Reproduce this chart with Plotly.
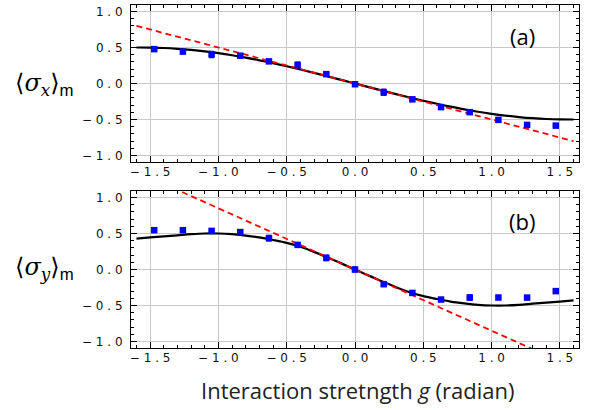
import plotly.graph_objects as go
from plotly.subplots import make_subplots

# ---- data ----
g_points = [-1.47, -1.26, -1.05, -0.84, -0.63, -0.42, -0.21, 0.0,
            0.21, 0.42, 0.63, 0.84, 1.05, 1.26, 1.47]
sx_meas = [0.477, 0.443, 0.403, 0.386, 0.307, 0.258, 0.130, -0.010,
           -0.122, -0.220, -0.328, -0.398, -0.505, -0.575, -0.585]
sx_err = [0.012, 0.015, 0.040, 0.018, 0.018, 0.035, 0.030, 0.025,
          0.040, 0.020, 0.015, 0.025, 0.018, 0.018, 0.012]
sy_meas = [0.546, 0.546, 0.536, 0.520, 0.435, 0.342, 0.161, 0.000,
           -0.204, -0.325, -0.417, -0.389, -0.389, -0.390, -0.300]
sy_err = [0.012, 0.022, 0.018, 0.012, 0.035, 0.020, 0.035, 0.030,
          0.015, 0.018, 0.012, 0.035, 0.025, 0.015, 0.015]

g_curve = [-1.6, -1.5, -1.4, -1.3, -1.2, -1.1, -1.0, -0.9, -0.8, -0.7, -0.6,
           -0.5, -0.4, -0.3, -0.2, -0.1, 0.0, 0.1, 0.2, 0.3, 0.4, 0.5, 0.6,
           0.7, 0.8, 0.9, 1.0, 1.1, 1.2, 1.3, 1.4, 1.5, 1.6]
sx_theory = [0.500, 0.499, 0.493, 0.482, 0.466, 0.446, 0.421, 0.392, 0.359,
             0.322, 0.282, 0.240, 0.195, 0.148, 0.099, 0.050, 0.000, -0.050,
             -0.099, -0.148, -0.195, -0.240, -0.282, -0.322, -0.359, -0.392,
             -0.421, -0.446, -0.466, -0.482, -0.493, -0.499, -0.500]
sy_theory = [0.430, 0.445, 0.460, 0.475, 0.490, 0.500, 0.500, 0.490, 0.470,
             0.445, 0.410, 0.370, 0.315, 0.245, 0.165, 0.085, 0.000, -0.085,
             -0.165, -0.245, -0.315, -0.370, -0.410, -0.445, -0.470, -0.490,
             -0.500, -0.500, -0.490, -0.475, -0.460, -0.445, -0.430]

g_linear = [-1.6, 1.6]
sx_linear = [0.80, -0.80]
sy_linear = [1.36, -1.36]

SP = " "  # mimics the wide letter spacing of the original tick labels
x_tickvals = [-1.5, -1.0, -0.5, 0.0, 0.5, 1.0, 1.5]
x_ticklabels = ["−1.5", "−1.0", "−0.5", "0.0", "0.5", "1.0", "1.5"]
y_tickvals = [-1.0, -0.5, 0.0, 0.5, 1.0]
y_ticklabels = ["−1.0", "−0.5", "0.0", "0.5", "1.0"]
x_ticktext = [SP.join(s) for s in x_ticklabels]
y_ticktext = [SP.join(s) for s in y_ticklabels]

BLUE = "#0000ff"
RED = "#ff0000"

fig = make_subplots(rows=2, cols=1, vertical_spacing=0.0)

panels = [(1, sx_meas, sx_err, sx_theory, sx_linear),
          (2, sy_meas, sy_err, sy_theory, sy_linear)]
for row, meas, err, theo, lin in panels:
    fig.add_trace(go.Scatter(x=g_curve, y=theo, mode="lines",
                             line=dict(color="black", width=2.2, shape="spline"),
                             showlegend=False), row=row, col=1)
    fig.add_trace(go.Scatter(x=g_linear, y=lin, mode="lines",
                             line=dict(color=RED, width=1.8, dash="6px,4px"),
                             showlegend=False), row=row, col=1)
    fig.add_trace(go.Scatter(x=g_points, y=meas, mode="markers",
                             marker=dict(color=BLUE, symbol="square", size=6.5),
                             error_y=dict(type="data", array=err, color=BLUE,
                                          thickness=1.6, width=2.5),
                             showlegend=False), row=row, col=1)

axis_common = dict(
    showline=True, linecolor="black", linewidth=1, mirror="ticks",
    ticks="inside", ticklen=6, tickwidth=1, tickcolor="black",
    showgrid=True, gridcolor="#c8c8c8", gridwidth=1.3, zeroline=False,
    tickfont=dict(family="DejaVu Sans", size=12, color="#111111"),
    minor=dict(ticks="inside", ticklen=3, tickwidth=1, tickcolor="black",
               dtick=0.1, tick0=0, showgrid=False),
)

for r in (1, 2):
    fig.update_xaxes(range=[-1.64, 1.64], tickvals=x_tickvals, ticktext=x_ticktext,
                     ticklabelstandoff=-1, **axis_common, row=r, col=1)
    fig.update_yaxes(range=[-1.09, 1.09], tickvals=y_tickvals, ticktext=y_ticktext,
                     ticklabelstandoff=5, **axis_common, row=r, col=1)

fig.update_layout(yaxis=dict(domain=[0.5423, 1.0]),
                  yaxis2=dict(domain=[0.0, 0.4577]))

W, H = 596, 410
L, R, T, B = 131, 17, 5, 62
pw, ph = W - L - R, H - T - B


def px_ann(text, x, y, family, size, color="black"):
    return dict(text=text, x=(x - L) / pw, y=(H - B - y) / ph,
                xref="paper", yref="paper", xanchor="center", yanchor="middle",
                showarrow=False, font=dict(family=family, size=size, color=color))


SANS_M = '<span style="font-family:Liberation Sans;font-style:normal">m</span>'
annotations = [
    px_ann("(a)", 522, 36, "Open Sans", 22),
    px_ann("(b)", 522, 221, "Open Sans", 22),
    px_ann("⟨<i>σ<sub>x</sub></i>⟩<sub>" + SANS_M + "</sub>", 44, 84, "DejaVu Serif", 24),
    px_ann("⟨<i>σ<sub>y</sub></i>⟩<sub>" + SANS_M + "</sub>", 44, 268, "DejaVu Serif", 24),
    px_ann("Interaction stretngth <i>g</i> (radian)", 357, 390, "Open Sans", 22, "#222222"),
]

fig.update_layout(
    width=W, height=H,
    margin=dict(l=L, r=R, t=T, b=B),
    paper_bgcolor="white", plot_bgcolor="white",
    annotations=annotations,
)

fig.write_html("out.html",
               config={"displayModeBar": False},
               post_script="document.body.style.margin='0';document.body.style.overflow='hidden';")
